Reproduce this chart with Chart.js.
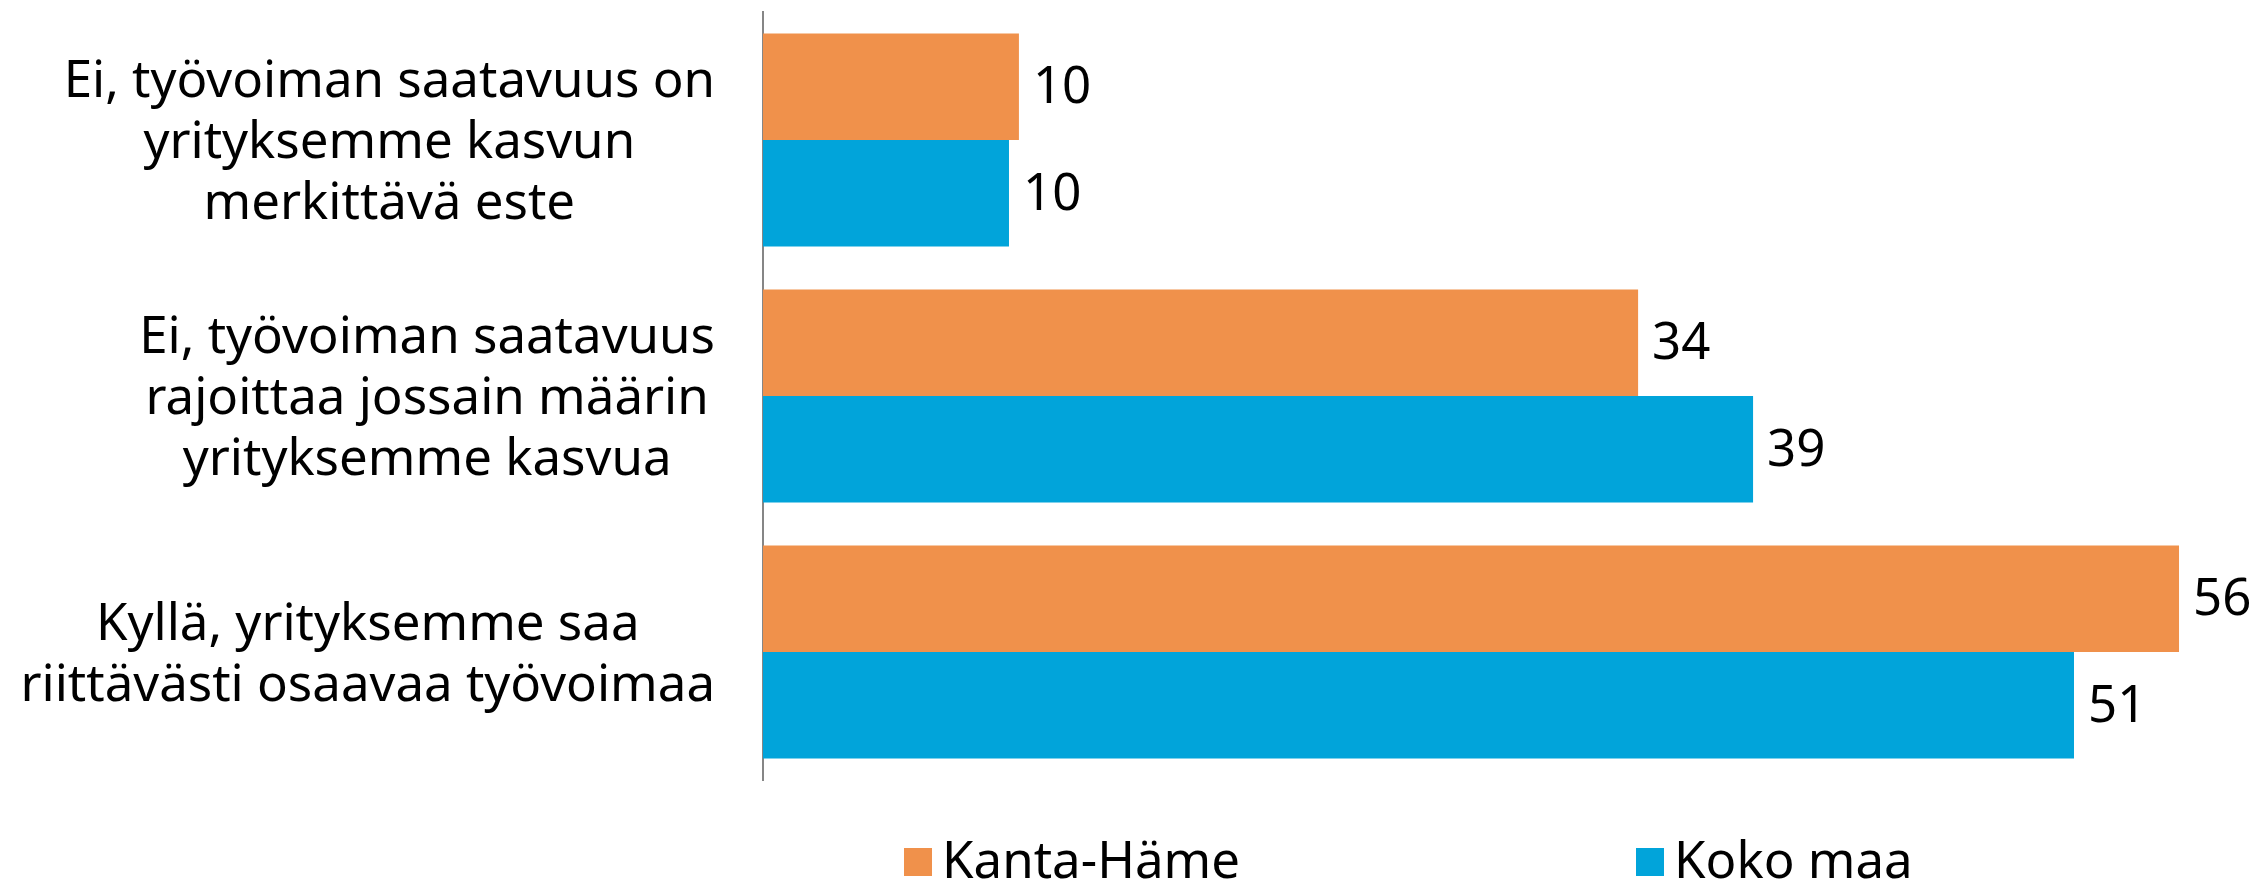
<!DOCTYPE html>
<html>
<head>
<meta charset="utf-8">
<script src="https://cdn.jsdelivr.net/npm/chart.js@4.4.1/dist/chart.umd.min.js"></script>
<style>
  html, body { margin: 0; padding: 0; background: #fff; overflow: hidden; }
  #wrap { position: relative; width: 2256px; height: 882px; }
  #legend { position: absolute; left: 904px; top: 833px; display: flex; gap: 396px; font-family: "Noto Sans"; font-size: 51px; line-height: 51px; color: #000; }
  .item { display: flex; align-items: flex-start; white-space: nowrap; }
  .swatch { width: 28px; height: 28px; margin-top: 15px; margin-right: 10px; }
</style>
</head>
<body>
<div id="wrap">
  <canvas id="chart" width="2256" height="882"></canvas>
  <div id="legend"></div>
</div>
<script>
// categories (one line per array item), series values in percent
const categories = [
  ["Ei, työvoiman saatavuus on", "yrityksemme kasvun", "merkittävä este"],
  ["Ei, työvoiman saatavuus", "rajoittaa jossain määrin", "yrityksemme kasvua"],
  ["Kyllä, yrityksemme saa", "riittävästi osaavaa työvoimaa"],
]
const seriesNames = ["Kanta-Häme", "Koko maa"]
const kantaHame = [10.04, 34.33, 55.55]
const kokoMaa = [9.65, 38.84, 51.43]
const xMin = 0
const xMax = 58.57

const colors = ["#F0914B", "#01A4DA"]
const FONT = '51px "Noto Sans"'
const LINE_H = 61

// value labels to the right of each bar
const valueLabels = {
  id: "valueLabels",
  afterDatasetsDraw(chart) {
    const ctx = chart.ctx
    ctx.save()
    ctx.font = FONT
    ctx.fillStyle = "#000"
    ctx.textAlign = "left"
    ctx.textBaseline = "middle"
    chart.data.datasets.forEach((ds, di) => {
      chart.getDatasetMeta(di).data.forEach((bar, i) => {
        ctx.fillText(String(Math.round(ds.data[i])), bar.x + 14, bar.y + 2)
      })
    })
    ctx.restore()
  },
}

// category labels: each block centred on itself, blocks right-aligned at the axis
const categoryLabels = {
  id: "categoryLabels",
  afterDraw(chart) {
    const ctx = chart.ctx
    const scale = chart.scales.y
    const right = chart.chartArea.left - 48
    ctx.save()
    ctx.font = FONT
    ctx.fillStyle = "#000"
    ctx.textAlign = "center"
    ctx.textBaseline = "alphabetic"
    chart.data.labels.forEach((lines, i) => {
      const cy = scale.getPixelForTick(i)
      const maxW = Math.max(...lines.map((l) => ctx.measureText(l).width))
      const cx = right - maxW / 2
      lines.forEach((line, j) => {
        ctx.fillText(line, cx, cy + (j - (lines.length - 1) / 2) * LINE_H + 18)
      })
    })
    ctx.restore()
  },
}

const chart = new Chart(document.getElementById("chart"), {
  type: "bar",
  data: {
    labels: categories,
    datasets: [
      { label: seriesNames[0], data: kantaHame, backgroundColor: colors[0] },
      { label: seriesNames[1], data: kokoMaa, backgroundColor: colors[1] },
    ].map((d) => ({ ...d, borderWidth: 0, categoryPercentage: 0.832, barPercentage: 1 })),
  },
  options: {
    indexAxis: "y",
    responsive: false,
    animation: false,
    devicePixelRatio: 1,
    layout: { padding: { top: 12, bottom: 102, left: 0, right: 0 } },
    plugins: { legend: { display: false }, tooltip: { enabled: false } },
    scales: {
      x: { display: false, min: xMin, max: xMax },
      y: {
        grid: { display: false },
        border: { display: true, color: "#868686", width: 2 },
        ticks: { display: false },
        afterFit(s) {
          s.width = 763
        },
      },
    },
  },
  plugins: [valueLabels, categoryLabels],
})

// html legend built from the datasets
const legend = document.getElementById("legend")
chart.data.datasets.forEach((ds) => {
  const item = document.createElement("div")
  item.className = "item"
  item.innerHTML = `<span class="swatch" style="background:${ds.backgroundColor}"></span><span>${ds.label}</span>`
  legend.appendChild(item)
})
</script>
</body>
</html>
